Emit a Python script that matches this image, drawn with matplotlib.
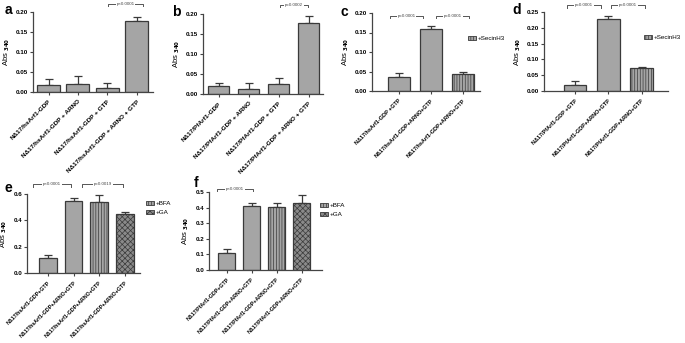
import matplotlib
matplotlib.use("Agg")
import matplotlib.pyplot as plt
from matplotlib.patches import Patch

plt.rcParams['font.family'] = ['Liberation Sans', 'DejaVu Sans']
plt.rcParams['font.weight'] = 'bold'
plt.rcParams['hatch.linewidth'] = 0.5

# ---- data ----
hs = 'NΔ17/hsArf1-GDP'
pf = 'NΔ17/PfArf1-GDP'

a_labels = [hs, hs + ' + ARNO', hs + ' + GTP', hs + ' + ARNO + GTP']
a_vals = [0.017, 0.021, 0.010, 0.178]
a_err = [0.015, 0.020, 0.012, 0.009]

b_labels = [pf, pf + ' + ARNO', pf + ' + GTP', pf + ' + ARNO + GTP']
b_vals = [0.021, 0.013, 0.026, 0.178]
b_err = [0.007, 0.015, 0.014, 0.018]

c_labels = [hs + ' +GTP', hs + '+ARNO+GTP', hs + '+ARNO+GTP']
c_vals = [0.035, 0.160, 0.044]
c_err = [0.010, 0.007, 0.005]

d_labels = [pf + ' +GTP', pf + '+ARNO+GTP', pf + '+ARNO+GTP']
d_vals = [0.019, 0.229, 0.072]
d_err = [0.012, 0.008, 0.005]

e_labels = [hs + '+GTP', hs + '+ARNO+GTP', hs + '+ARNO+GTP', hs + '+ARNO+GTP']
e_vals = [0.117, 0.550, 0.542, 0.445]
e_err = [0.016, 0.016, 0.052, 0.021]

f_labels = [pf + '+GTP', pf + '+ARNO+GTP', pf + '+ARNO+GTP', pf + '+ARNO+GTP']
f_vals = [0.111, 0.409, 0.406, 0.428]
f_err = [0.025, 0.021, 0.024, 0.053]

GREY = '#a5a5a5'
DARK = '#8a8a8a'
EDGE = '#3a3a3a'

fig = plt.figure(figsize=(6.85, 3.43), dpi=100)
W, H = 685.0, 343.0


def make_ax(x0, y_top, x1, y_bot):
    return fig.add_axes([x0 / W, 1 - y_bot / H, (x1 - x0) / W, (y_bot - y_top) / H])


def draw(ax, labels, vals, errs, width, xlim, ymax, yticks, fmt, hatches, faces, lsize):
    x = list(range(len(vals)))
    ax.bar(x, vals, width=width, color=faces, edgecolor=EDGE, linewidth=0.9,
           hatch=hatches, zorder=2)
    ax.errorbar(x, vals, yerr=[[0] * len(errs), errs], fmt='none', ecolor=EDGE,
                elinewidth=0.9, capsize=3, capthick=0.9, zorder=1)
    ax.set_xlim(*xlim)
    ax.set_ylim(0, ymax)
    ax.set_yticks(yticks)
    ax.set_yticklabels([fmt.format(t) for t in yticks], fontsize=4.5)
    ax.set_xticks(x)
    ax.set_xticklabels(labels, rotation=45, ha='right', rotation_mode='anchor',
                       fontsize=lsize)
    for s in ['top', 'right']:
        ax.spines[s].set_visible(False)
    for s in ['left', 'bottom']:
        ax.spines[s].set_linewidth(0.9)
        ax.spines[s].set_color('#444444')
    ax.tick_params(axis='both', length=2, width=0.8, pad=1.5, color='#444444')
    ax.tick_params(axis='x', pad=3)
    ax.set_ylabel('Abs $_{340}$', fontsize=5.5, labelpad=3)
    ax.patch.set_alpha(0)


def bracket(ax, x0, x1, y, drop, text):
    ax.plot([x0, x0, x1, x1], [y - drop, y, y, y - drop], color='#555555', lw=0.7,
            clip_on=False)
    ax.text((x0 + x1) / 2, y, text, fontsize=3.2, fontweight='normal', ha='center',
            va='center', color='#444444',
            bbox=dict(facecolor='white', edgecolor='none', pad=0.6))


def legend(ax, handles, labels, x, y):
    ax.legend(handles, labels, loc='upper left', bbox_to_anchor=(x / W, 1 - y / H),
              bbox_transform=fig.transFigure, frameon=False,
              handlelength=1.2, handleheight=0.6, handletextpad=0.4,
              labelspacing=0.6, borderpad=0, borderaxespad=0,
              prop={'weight': 'normal', 'size': 4.5})


h_sec = Patch(facecolor=GREY, edgecolor=EDGE, hatch='||||||', linewidth=0.6)
h_bfa = Patch(facecolor=GREY, edgecolor=EDGE, hatch='||||||', linewidth=0.6)
h_ga = Patch(facecolor=DARK, edgecolor=EDGE, hatch='xxxxxx', linewidth=0.6)

# a
ax = make_ax(33, 12, 153, 92)
draw(ax, a_labels, a_vals, a_err, 0.78, (-0.53, 3.56), 0.20,
     [0, 0.05, 0.10, 0.15, 0.20], '{:.2f}', None, GREY, 4.6)
bracket(ax, 2.03, 3.22, 0.22, 0.006, 'p<0.0001')

# b
ax = make_ax(203, 14, 323, 94)
draw(ax, b_labels, b_vals, b_err, 0.7, (-0.52, 3.48), 0.20,
     [0, 0.05, 0.10, 0.15, 0.20], '{:.2f}', None, GREY, 4.6)
bracket(ax, 2.05, 2.98, 0.2225, 0.006, 'p=0.0002')

# c
ax = make_ax(372, 13, 480, 91)
draw(ax, c_labels, c_vals, c_err, 0.68, (-0.84, 2.53), 0.20,
     [0, 0.05, 0.10, 0.15, 0.20], '{:.2f}', [None, None, '||||||'], GREY, 4.0)
bracket(ax, -0.28, 0.75, 0.192, 0.006, 'p=0.0001')
bracket(ax, 1.16, 2.19, 0.192, 0.006, 'p=0.0001')
legend(ax, [h_sec], ['+SecinH3'], 468, 36)

# d
ax = make_ax(544, 12, 668, 91)
draw(ax, d_labels, d_vals, d_err, 0.67, (-0.95, 2.8), 0.25,
     [0, 0.05, 0.10, 0.15, 0.20, 0.25], '{:.2f}', [None, None, '||||||'], GREY, 4.0)
bracket(ax, -0.26, 0.77, 0.272, 0.008, 'p=0.0001')
bracket(ax, 1.08, 2.10, 0.272, 0.008, 'p=0.0001')
legend(ax, [h_sec], ['+SecinH3'], 644, 35)

# e
ax = make_ax(27, 194, 140, 273)
draw(ax, e_labels, e_vals, e_err, 0.7, (-0.82, 3.6), 0.6,
     [0, 0.2, 0.4, 0.6], '{:.1f}', [None, None, '||||||', 'xxxxxx'],
     [GREY, GREY, GREY, DARK], 3.8)
bracket(ax, -0.59, 0.90, 0.676, 0.02, 'p<0.0001')
bracket(ax, 1.33, 2.94, 0.676, 0.02, 'p=0.0019')
legend(ax, [h_bfa, h_ga], ['+BFA', '+GA'], 146, 201)

# f
ax = make_ax(209, 192, 322, 270)
draw(ax, f_labels, f_vals, f_err, 0.68, (-0.7, 3.82), 0.5,
     [0, 0.1, 0.2, 0.3, 0.4, 0.5], '{:.1f}', [None, None, '||||||', 'xxxxxx'],
     [GREY, GREY, GREY, DARK], 3.8)
bracket(ax, -0.38, 1.06, 0.52, 0.015, 'p<0.0001')
legend(ax, [h_bfa, h_ga], ['+BFA', '+GA'], 320, 203)

# panel letters
for letter, px, py in [('a', 8, 10), ('b', 176, 12), ('c', 344, 12),
                       ('d', 517, 10), ('e', 8, 188), ('f', 196, 183)]:
    fig.text(px / W, 1 - py / H, letter, fontsize=10, fontweight='bold',
             ha='center', va='center')

fig.savefig('out.png', dpi=100)
